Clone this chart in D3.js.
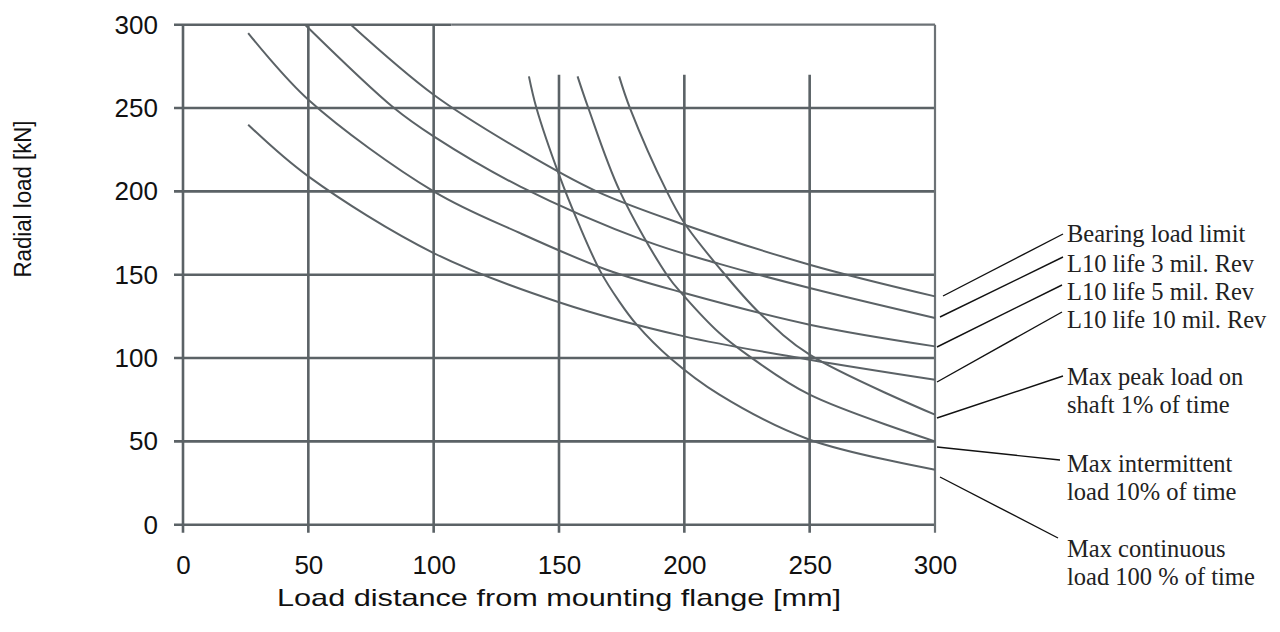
<!DOCTYPE html>
<html>
<head>
<meta charset="utf-8">
<script src="https://cdn.jsdelivr.net/npm/d3@7"></script>
<style>
  html, body { margin: 0; padding: 0; background: #fff; }
  svg { display: block; }
</style>
</head>
<body>
<svg id="chart" width="1280" height="632"></svg>
<script>
// ---------- data ----------
const xTicks = [0, 50, 100, 150, 200, 250, 300];
const yTicks = [0, 50, 100, 150, 200, 250, 300];

const xTitle = "Load distance from mounting flange [mm]";
const yTitle = "Radial load [kN]";

// Bearing load limit
const bearingX = [67, 100, 134.4, 165, 200, 250, 300];
const bearingY = [300, 258, 225, 200, 180, 156, 137];
// L10 life 3 mil. Rev
const l10_3X = [48.7, 84.2, 100, 134.4, 185, 214, 250, 300];
const l10_3Y = [300, 250, 233, 203, 170, 156.5, 142, 124];
// L10 life 5 mil. Rev
const l10_5X = [26, 50, 100, 134.4, 169, 200, 250, 300];
const l10_5Y = [295, 255, 200, 175, 153, 139, 120, 107];
// L10 life 10 mil. Rev
const l10_10X = [26, 50, 100, 150, 200, 250, 300];
const l10_10Y = [240, 209, 163, 133.5, 113, 99, 87];
// Max peak load on shaft 1% of time
const peakX = [174, 178.3, 193, 200, 214, 230, 250, 300];
const peakY = [269, 250, 200, 181, 154, 127, 102, 66];
// Max intermittent load 10% of time
const interX = [157.4, 161.7, 174.3, 193, 200, 214, 226, 250, 300];
const interY = [269, 250, 200, 150, 137, 115, 101, 78, 50];
// Max continuous load 100 % of time
const contX = [138, 141, 150, 158, 166.5, 174, 181, 194.3, 214, 250, 300];
const contY = [269, 250, 210, 180, 152, 134, 120, 100, 78, 51, 33];

const seriesNames = ["bearing", "l10_3", "l10_5", "l10_10", "peak", "inter", "cont"];
const labelLines = [
  ["Bearing load limit"],
  ["L10 life 3 mil. Rev"],
  ["L10 life 5 mil. Rev"],
  ["L10 life 10 mil. Rev"],
  ["Max peak load on", "shaft 1% of time"],
  ["Max intermittent", "load 10% of time"],
  ["Max continuous", "load 100 % of time"]
];

// ---------- build ----------
const zip = (xs, ys) => xs.map((v, i) => ({ x: v, y: ys[i] }));
const series = [
  zip(bearingX, bearingY),
  zip(l10_3X, l10_3Y),
  zip(l10_5X, l10_5Y),
  zip(l10_10X, l10_10Y),
  zip(peakX, peakY),
  zip(interX, interY),
  zip(contX, contY)
];

const svg = d3.select("#chart");
const x = d3.scaleLinear().domain([0, 300]).range([183, 935]);
const y = d3.scaleLinear().domain([0, 300]).range([524.7, 24.7]);

const GRID = "#5b6266";
const gridW = 2.6;

const g = svg.append("g");

// horizontal grid lines
g.selectAll("line.h").data(yTicks).enter().append("line")
  .attr("x1", d => x(0) - 9)
  .attr("x2", d => d === 300 ? x(107) : x(300))
  .attr("y1", d => y(d)).attr("y2", d => y(d))
  .attr("stroke", GRID).attr("stroke-width", gridW);
// lighter right part of the top line
g.append("line")
  .attr("x1", x(107)).attr("x2", x(300))
  .attr("y1", y(300)).attr("y2", y(300))
  .attr("stroke", "#6c7276").attr("stroke-width", 2.2);

// vertical grid lines (150, 200, 250 stop at ~270 kN)
g.selectAll("line.v").data(xTicks).enter().append("line")
  .attr("x1", d => x(d)).attr("x2", d => x(d))
  .attr("y1", d => y(0) + 8)
  .attr("y2", d => (d >= 150 && d <= 250) ? y(270) : y(300))
  .attr("stroke", d => d === 300 ? "#6c7276" : GRID)
  .attr("stroke-width", d => d === 300 ? 2.2 : gridW);

// axes (labels only)
const fontSans = "'Liberation Sans', Arial, sans-serif";
const xAxis = d3.axisBottom(x).tickValues(xTicks).tickSize(0).tickPadding(31);
const yAxis = d3.axisLeft(y).tickValues(yTicks).tickSize(0).tickPadding(25);
const gx = svg.append("g").attr("transform", `translate(0,${y(0)})`).call(xAxis);
const gy = svg.append("g").attr("transform", `translate(${x(0)},0)`).call(yAxis);
[gx, gy].forEach(a => {
  a.select(".domain").remove();
  a.attr("font-size", null).attr("font-family", null);
  a.selectAll("text").style("font-family", fontSans).style("font-size", "26px").attr("fill", "#111");
});

svg.append("text")
  .attr("x", x(150)).attr("y", 606)
  .attr("text-anchor", "middle")
  .style("font-family", fontSans).style("font-size", "24px").attr("fill", "#111")
  .attr("textLength", 564).attr("lengthAdjust", "spacingAndGlyphs")
  .text(xTitle);
svg.append("text")
  .attr("transform", `translate(31,${199}) rotate(-90)`)
  .attr("text-anchor", "middle")
  .style("font-family", fontSans).style("font-size", "23px").attr("fill", "#111")
  .attr("textLength", 157).attr("lengthAdjust", "spacingAndGlyphs")
  .text(yTitle);

// curves
const line = d3.line().x(d => x(d.x)).y(d => y(d.y)).curve(d3.curveCatmullRom.alpha(0.5));
svg.append("g").selectAll("path").data(series).enter().append("path")
  .attr("d", line)
  .attr("fill", "none")
  .attr("stroke", GRID)
  .attr("stroke-width", 2);

// annotations
const fontSerif = "'Liberation Serif', 'Times New Roman', serif";
const labelX = 1067;
const labelBase = [241.7, 271.7, 300, 328.3, 385, 471.7, 556.7];
const leaderStart = [[943, 296], [940, 317], [937, 347], [937, 382], [937, 418], [937, 447], [940, 477]];
const leaderEnd = [[1063, 234], [1063, 257], [1062, 285], [1062, 312], [1063, 376], [1060, 460], [1058, 538]];
const ann = svg.append("g");
seriesNames.forEach((name, i) => {
  ann.append("line")
    .attr("x1", leaderStart[i][0]).attr("y1", leaderStart[i][1])
    .attr("x2", leaderEnd[i][0]).attr("y2", leaderEnd[i][1])
    .attr("stroke", "#111").attr("stroke-width", 1.4);
  labelLines[i].forEach((t, j) => {
    ann.append("text")
      .attr("x", labelX).attr("y", labelBase[i] + j * 28.4)
      .style("font-family", fontSerif).style("font-size", "24.5px").attr("fill", "#222")
      .text(t);
  });
});
</script>
</body>
</html>
